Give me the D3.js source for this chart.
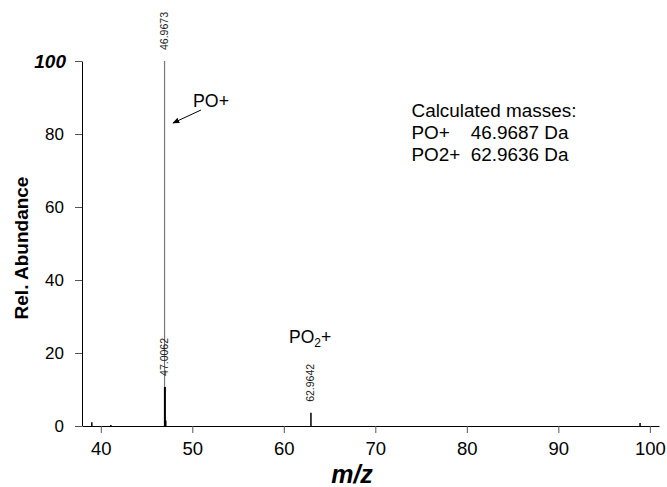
<!DOCTYPE html>
<html><head><meta charset="utf-8">
<script src="https://cdn.jsdelivr.net/npm/d3@7"></script>
<style>body{margin:0;background:#fff}svg{display:block;font-family:Arial,"Liberation Sans",sans-serif}</style>
</head><body>
<svg id="c" width="667" height="487"></svg>
<script>
// data
const peakMz    = [39.02, 41.1, 46.9673, 47.0062, 47.10, 62.9642, 98.93];
const peakAbund = [1.0,   0.3,  100,     10.7,    1.5,   3.6,     0.8];
const labeledMz = [46.9673, 47.0062, 62.9642];
const xTicks = [40, 50, 60, 70, 80, 90, 100];
const yTicks = [0, 20, 40, 60, 80, 100];
const calcLines = ["Calculated masses:", "PO+    46.9687 Da", "PO2+  62.9636 Da"];

const svg = d3.select("#c");
const x = d3.scaleLinear().domain([38, 101]).range([82.5, 659]);
const y = d3.scaleLinear().domain([0, 100]).range([426, 61]);

// y axis
const gy = svg.append("g").attr("transform", "translate(82,0)")
  .call(d3.axisLeft(y).tickValues(yTicks).tickSize(7).tickSizeOuter(0).tickPadding(11));
gy.select(".domain").attr("stroke", "#000");
gy.selectAll(".tick line").attr("stroke", "#555");
gy.selectAll(".tick text").attr("font-size", 17).attr("fill", "#000")
  .attr("font-family", "Arial, 'Liberation Sans', sans-serif")
  .filter(d => d === 100).attr("font-weight", "bold").attr("font-style", "italic")
  .attr("font-size", 19).attr("dx", 2);

// x axis
const gx = svg.append("g").attr("transform", "translate(0,426)")
  .call(d3.axisBottom(x).tickValues(xTicks).tickSize(7).tickSizeOuter(0).tickPadding(9));
gx.select(".domain").attr("stroke", "#000");
gx.selectAll(".tick line").attr("stroke", "#555");
gx.selectAll(".tick text").attr("font-size", 18.5).attr("fill", "#000")
  .attr("font-family", "Arial, 'Liberation Sans', sans-serif");

// peaks
const peaks = peakMz.map((m, i) => ({m, a: peakAbund[i]}));
svg.append("g").selectAll("line").data(peaks).join("line")
  .attr("x1", d => x(d.m)).attr("x2", d => x(d.m))
  .attr("y1", y(0)).attr("y2", d => y(d.a))
  .attr("stroke", d => d.a >= 100 ? "#777" : "#000")
  .attr("stroke-width", d => d.a >= 100 ? 1.2 : (d.a > 5 ? 2 : 1.5));

// peak labels
svg.append("g").selectAll("text").data(labeledMz).join("text")
  .attr("transform", d => {
    const a = peakAbund[peakMz.indexOf(d)];
    return `translate(${x(d) + 3.5},${y(a) - 11}) rotate(-90)`;
  })
  .attr("font-size", 10.5).attr("fill", "#222")
  .attr("textLength", 38).attr("lengthAdjust", "spacingAndGlyphs")
  .text(d => d3.format(".4f")(d));

// PO+ annotation with arrow
svg.append("defs").append("marker").attr("id", "ah")
  .attr("viewBox", "0 0 10 10").attr("refX", 9).attr("refY", 5)
  .attr("markerWidth", 7).attr("markerHeight", 7).attr("orient", "auto")
  .append("path").attr("d", "M0,1L10,5L0,9Z").attr("fill", "#000");
svg.append("line").attr("x1", 201).attr("y1", 110).attr("x2", 173).attr("y2", 123)
  .attr("stroke", "#000").attr("stroke-width", 1).attr("marker-end", "url(#ah)");
svg.append("text").attr("x", 193).attr("y", 107).attr("font-size", 18)
  .attr("textLength", 36).attr("lengthAdjust", "spacingAndGlyphs").text("PO+");

// PO2+ annotation
const t2 = svg.append("text").attr("x", 289).attr("y", 343).attr("font-size", 17.5);
t2.append("tspan").text("PO");
t2.append("tspan").attr("font-size", 12).attr("dy", 4).text("2");
t2.append("tspan").attr("dy", -4).text("+");

// calculated masses box
const calcLen = [165, 157, 157];
svg.append("g").selectAll("text").data(calcLines).join("text")
  .attr("x", 411.5).attr("y", (d, i) => 117 + i * 22)
  .attr("font-size", 17.5).attr("xml:space", "preserve").style("white-space", "pre")
  .attr("textLength", (d, i) => calcLen[i]).attr("lengthAdjust", "spacingAndGlyphs")
  .text(d => d);

// axis titles
svg.append("text").attr("x", 352).attr("y", 483).attr("text-anchor", "middle")
  .attr("font-size", 25).attr("font-weight", "bold").attr("font-style", "italic").text("m/z");
svg.append("text").attr("transform", "translate(28,248) rotate(-90)").attr("text-anchor", "middle")
  .attr("font-size", 19).attr("font-weight", "bold").text("Rel. Abundance");
</script>
</body></html>
